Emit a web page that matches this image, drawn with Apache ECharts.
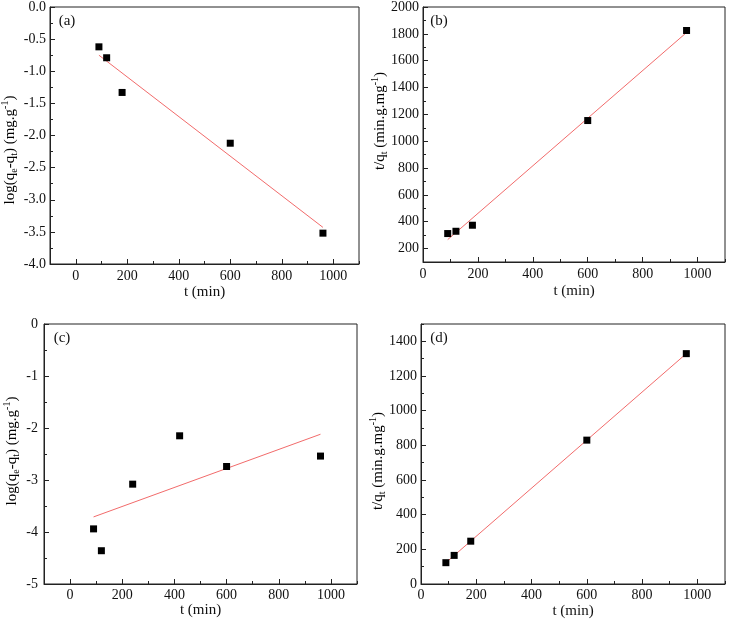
<!DOCTYPE html>
<html>
<head>
<meta charset="utf-8">
<script src="https://cdn.jsdelivr.net/npm/echarts@6/dist/echarts.min.js"></script>
<style>
html,body{margin:0;padding:0;background:#fff;}
#c{width:729px;height:622px;}
</style>
</head>
<body>
<div id="c"></div>
<script>
// ---- data ----
const tA = [90, 120, 180, 600, 960];
const logA = [-0.62, -0.79, -1.33, -2.12, -3.52];
const fitXA = [90, 960];
const fitYA = [-0.75, -3.43];

const tB = [90, 120, 180, 600, 960];
const tqB = [312, 329, 374, 1154, 1825];
const fitXB = [90, 960];
const fitYB = [267, 1810];

const tC = [90, 120, 240, 420, 600, 960];
const logC = [-3.94, -4.36, -3.08, -2.15, -2.74, -2.54];
const fitXC = [90, 960];
const fitYC = [-3.71, -2.12];

const tD = [90, 120, 180, 600, 960];
const tqD = [123, 165, 247, 830, 1329];
const fitXD = [90, 960];
const fitYD = [123, 1329];

const panelLabels = ['(a)', '(b)', '(c)', '(d)'];
const xName = 't (min)';

// ---- styling / layout ----
const FONT = 'Liberation Serif';
const AX = '#222';
const RED = '#f26b6b';

const grids = [
  {left: 50, top: 6, width: 309, height: 258},
  {left: 423, top: 6, width: 302, height: 256},
  {left: 44, top: 324, width: 313, height: 260},
  {left: 421, top: 324, width: 304, height: 260}
];

function isMult(v, s) { const r = Math.abs(v / s - Math.round(v / s)); return r < 1e-9; }

function majorAxis(dim, gi, min, max, step, extra) {
  const o = {
    gridIndex: gi, type: 'value', min: min, max: max,
    minInterval: step, maxInterval: step, splitNumber: Math.round((max - min) / step),
    position: dim === 'x' ? 'bottom' : 'left',
    axisLine: {show: true, onZero: false, lineStyle: {color: AX, width: 1}},
    axisTick: {show: true, inside: true, length: 5, lineStyle: {color: AX}},
    axisLabel: {
      show: true, color: '#111', fontFamily: FONT, fontSize: 14,
      margin: (extra && extra.margin) || 5,
      showMinLabel: isMult(min, step), showMaxLabel: isMult(max, step),
      formatter: (extra && extra.fmt) || (v => String(v))
    },
    splitLine: {show: false}
  };
  if (extra && extra.name) {
    o.name = extra.name; o.nameLocation = 'middle'; o.nameGap = extra.nameGap;
    o.nameTextStyle = {fontFamily: FONT, fontSize: 15, color: '#111'};
  }
  return o;
}
function minorAxis(dim, gi, min, max, step) {
  return {
    gridIndex: gi, type: 'value', min: min, max: max, interval: step,
    position: dim === 'x' ? 'bottom' : 'left', offset: 0,
    axisLine: {show: false, onZero: false}, axisLabel: {show: false}, splitLine: {show: false},
    axisTick: {show: true, inside: true, length: 3, lineStyle: {color: AX}}
  };
}

const xAxes = [
  majorAxis('x', 0, -100, 1100, 200, {name: xName, nameGap: 21, margin: 5}),
  majorAxis('x', 1, 0, 1100, 200, {name: xName, nameGap: 22, margin: 5}),
  majorAxis('x', 2, -100, 1100, 200, {name: xName, nameGap: 15, margin: 4}),
  majorAxis('x', 3, 0, 1100, 200, {name: xName, nameGap: 20, margin: 4}),
  minorAxis('x', 0, -100, 1100, 100),
  minorAxis('x', 1, 0, 1100, 100),
  minorAxis('x', 2, -100, 1100, 100),
  minorAxis('x', 3, 0, 1100, 100)
];
const yAxes = [
  majorAxis('y', 0, -4, 0, 0.5, {margin: 4, fmt: v => v.toFixed(1)}),
  majorAxis('y', 1, 100, 2000, 200, {margin: 4}),
  majorAxis('y', 2, -5, 0, 1, {margin: 6}),
  majorAxis('y', 3, 0, 1500, 200, {margin: 4}),
  minorAxis('y', 0, -4, 0, 0.25),
  minorAxis('y', 1, 100, 2000, 100),
  minorAxis('y', 2, -5, 0, 0.5),
  minorAxis('y', 3, 0, 1500, 100)
];

function zip(a, b) { return a.map((v, i) => [v, b[i]]); }
function scatter(i, xs, ys) {
  return {type: 'scatter', xAxisIndex: i, yAxisIndex: i, data: zip(xs, ys),
    symbol: 'rect', symbolSize: 7, itemStyle: {color: '#000', opacity: 1}, z: 3, silent: true};
}
function fit(i, xs, ys) {
  return {type: 'line', xAxisIndex: i, yAxisIndex: i, data: zip(xs, ys),
    showSymbol: false, symbol: 'none', lineStyle: {color: RED, width: 1}, z: 2, silent: true};
}

const rich = {
  n: {fontFamily: FONT, fontSize: 15, lineHeight: 19, color: '#111'},
  s: {fontFamily: FONT, fontSize: 10, lineHeight: 10, verticalAlign: 'bottom', color: '#111'},
  p: {fontFamily: FONT, fontSize: 10, lineHeight: 10, verticalAlign: 'top', color: '#111'}
};
const yNameLog = '{n|log(q}{s|e}{n|-q}{s|t}{n|) (mg.g}{p|-1}{n|)}';
const yNameTq = '{n|t/q}{s|t}{n| (min.g.mg}{p|-1}{n|)}';

function yName(text, x, y) {
  return {type: 'text', x: x, y: y, rotation: Math.PI / 2, silent: true,
    style: {text: text, rich: rich, align: 'center', verticalAlign: 'middle'}};
}
function panelLabel(text, x, y) {
  return {type: 'text', x: x, y: y, silent: true,
    style: {text: text, fontFamily: FONT, fontSize: 15, fill: '#111', align: 'center', verticalAlign: 'middle'}};
}

const option = {
  animation: false,
  backgroundColor: '#fff',
  grid: grids.map(g => Object.assign({show: true, borderColor: AX, borderWidth: 1, backgroundColor: 'transparent', containLabel: false}, g)),
  xAxis: xAxes,
  yAxis: yAxes,
  series: [
    fit(0, fitXA, fitYA), scatter(0, tA, logA),
    fit(1, fitXB, fitYB), scatter(1, tB, tqB),
    fit(2, fitXC, fitYC), scatter(2, tC, logC),
    fit(3, fitXD, fitYD), scatter(3, tD, tqD)
  ],
  graphic: [
    yName(yNameLog, 10, 150),
    yName(yNameTq, 380, 121),
    yName(yNameLog, 12, 451),
    yName(yNameTq, 378, 461),
    panelLabel(panelLabels[0], 67, 21),
    panelLabel(panelLabels[1], 439, 21),
    panelLabel(panelLabels[2], 62, 338),
    panelLabel(panelLabels[3], 439, 338)
  ]
};

const chart = echarts.init(document.getElementById('c'), null, {renderer: 'canvas'});
chart.setOption(option);
</script>
</body>
</html>
